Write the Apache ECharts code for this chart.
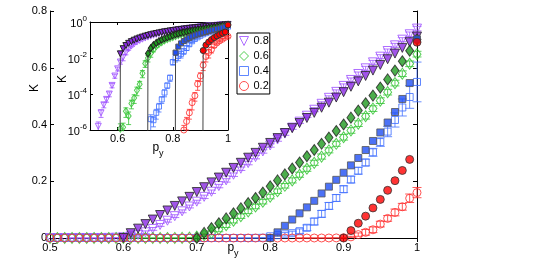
<!DOCTYPE html>
<html><head><meta charset="utf-8">
<script src="https://cdn.jsdelivr.net/npm/echarts@6/dist/echarts.min.js"></script>
<style>html,body{margin:0;padding:0;background:#fff}#c{width:545px;height:267px}</style>
</head><body><div id="c"></div>
<script>
// p_y grid
const P = [0.50,0.51,0.52,0.53,0.54,0.55,0.56,0.57,0.58,0.59,
  0.60,0.61,0.62,0.63,0.64,0.65,0.66,0.67,0.68,0.69,
  0.70,0.71,0.72,0.73,0.74,0.75,0.76,0.77,0.78,0.79,
  0.80,0.81,0.82,0.83,0.84,0.85,0.86,0.87,0.88,0.89,
  0.90,0.91,0.92,0.93,0.94,0.95,0.96,0.97,0.98,0.99,1.00];

// open symbols (with error bars)
const open08 = [0,0,0,1.6e-6,9e-6,2.5e-5,5e-5,1e-4,3e-4,1e-3,
  2.5e-3,6e-3,0.011,0.02,0.032,0.046,0.061,0.077,0.094,0.111,
  0.128,0.145,0.163,0.183,0.203,0.223,0.244,0.264,0.285,0.305,
  0.326,0.347,0.368,0.389,0.410,0.431,0.452,0.473,0.494,0.515,
  0.536,0.557,0.578,0.598,0.619,0.639,0.659,0.679,0.699,0.718,0.738];
const err08 = [0,0,0,1.2e-6,4e-6,8e-6,1.5e-5,3e-5,8e-5,2.5e-4,
  6e-4,1.5e-3,0.004,0.005,0.005,0.005,0.005,0.005,0.005,0.005,
  0.005,0.006,0.006,0.006,0.006,0.006,0.006,0.006,0.006,0.006,
  0.006,0.006,0.006,0.006,0.006,0.006,0.007,0.007,0.007,0.007,
  0.007,0.007,0.007,0.007,0.007,0.007,0.007,0.007,0.007,0.008,0.008];
const open06 = [0,0,0,0,0,0,0,0,0,0,
  0,1.2e-6,1.4e-6,1.1e-5,6e-6,3e-5,6e-5,1.6e-4,3.5e-4,1.4e-3,
  5e-3,0.01,0.018,0.03,0.045,0.061,0.077,0.094,0.111,0.128,
  0.146,0.165,0.184,0.203,0.223,0.244,0.265,0.287,0.309,0.332,
  0.355,0.379,0.403,0.429,0.456,0.484,0.514,0.546,0.579,0.614,0.648];
const err06 = [0,0,0,0,0,0,0,0,0,0,
  0,1e-6,1e-6,6e-6,4e-6,1.5e-5,3e-5,8e-5,1.5e-4,6e-4,
  2e-3,0.004,0.007,0.008,0.008,0.008,0.008,0.008,0.008,0.008,
  0.008,0.008,0.008,0.009,0.009,0.009,0.009,0.009,0.009,0.009,
  0.01,0.01,0.01,0.01,0.01,0.01,0.01,0.01,0.01,0.01,0.01];
const open04 = [0,0,0,0,0,0,0,0,0,0,
  0,0,0,0,0,0,0,0,0,0,
  0,0,4e-6,3.5e-6,9e-6,2e-5,5e-5,1.2e-4,3e-4,8e-4,
  6e-3,0.01,0.013,0.017,0.024,0.036,0.058,0.085,0.113,0.141,
  0.172,0.206,0.237,0.266,0.302,0.338,0.375,0.416,0.460,0.497,0.55];
const err04 = [0,0,0,0,0,0,0,0,0,0,
  0,0,0,0,0,0,0,0,0,0,
  0,0,3e-6,2e-6,5e-6,1e-5,2e-5,5e-5,1e-4,3e-4,
  2e-3,0.004,0.006,0.007,0.008,0.01,0.012,0.012,0.012,0.012,
  0.012,0.012,0.012,0.012,0.014,0.015,0.018,0.025,0.03,0.04,0.07];
const open02 = [0,0,0,0,0,0,0,0,0,0,
  0,0,0,0,0,0,0,0,0,0,
  0,0,0,0,0,0,0,0,0,0,
  0,0,0,0,1e-6,3e-6,9e-6,3.3e-5,8e-5,3.6e-4,
  1e-3,4e-3,0.012,0.02,0.029,0.049,0.069,0.09,0.11,0.14,0.16];
const err02 = [0,0,0,0,0,0,0,0,0,0,
  0,0,0,0,0,0,0,0,0,0,
  0,0,0,0,0,0,0,0,0,0,
  0,0,0,0,8e-7,2e-6,5e-6,2e-5,4e-5,2e-4,
  5e-4,2e-3,0.006,0.01,0.01,0.01,0.01,0.012,0.012,0.015,0.018];

// filled symbols
const fill08 = [null,null,null,null,null,null,null,null,null,null,
  0,0.017,0.033,0.049,0.065,0.081,0.097,0.113,0.129,0.145,
  0.162,0.179,0.196,0.213,0.230,0.247,0.265,0.283,0.300,0.318,
  0.335,0.352,0.370,0.387,0.405,0.423,0.441,0.459,0.477,0.495,
  0.514,0.533,0.552,0.571,0.590,0.610,0.630,0.650,0.670,0.690,0.71];
const fill06 = [null,null,null,null,null,null,null,null,null,null,
  null,null,null,null,null,null,null,null,null,null,
  0,0.018,0.035,0.052,0.069,0.087,0.105,0.123,0.141,0.160,
  0.182,0.203,0.224,0.245,0.266,0.288,0.310,0.332,0.354,0.377,
  0.400,0.424,0.449,0.475,0.502,0.530,0.559,0.590,0.623,0.660,0.70];
const fill04 = [null,null,null,null,null,null,null,null,null,null,
  null,null,null,null,null,null,null,null,null,null,
  null,null,null,null,null,null,null,null,null,null,
  0,0.02,0.043,0.065,0.087,0.108,0.131,0.157,0.181,0.205,
  0.230,0.256,0.282,0.310,0.342,0.372,0.407,0.444,0.490,0.546,0.70];
const fill02 = [null,null,null,null,null,null,null,null,null,null,
  null,null,null,null,null,null,null,null,null,null,
  null,null,null,null,null,null,null,null,null,null,
  null,null,null,null,null,null,null,null,null,null,
  0,0.026,0.052,0.077,0.106,0.136,0.168,0.202,0.238,0.277,0.69];

const names = ['0.8','0.6','0.4','0.2'];
const mainXTicks = [0.5,0.6,0.7,0.8,0.9,1];
const mainYTicks = [0,0.2,0.4,0.6,0.8];
const insetXTicks = [0.6,0.8,1];

const FONT = '"Liberation Sans", Arial, Helvetica, sans-serif';
const openColors = ['#a055ff','#33c433','#4472ff','#ff3030'];
const fillColors = ['#8a2be2','#1f9a1f','#1f4ff5','#ff0000'];
const fillEdge = ['#222','#222','#555','#333'];
const downTri = 'path://M0,0L10,0L5,10Z';
const symMain = [['triangle',9,180],['diamond',[8,11],0],['rect',7,0],['circle',8,0]];
const symInset = [['triangle',6,180],['diamond',[5,7],0],['rect',5,0],['circle',6,0]];
const opens = [open08,open06,open04,open02];
const errs = [err08,err06,err04,err02];
const fills = [fill08,fill06,fill04,fill02];

function errRenderer(color, cap, clampMin) {
  return function (params, api) {
    const x = api.value(0), v = api.value(1), e = api.value(2);
    let lo = v - e, hi = v + e, clamped = false;
    if (clampMin != null && lo < clampMin) { lo = clampMin; clamped = true; }
    const a = api.coord([x, hi]), b = api.coord([x, lo]);
    const st = {stroke: color, lineWidth: 1, opacity: 0.8};
    const ch = [
      {type:'line', shape:{x1:a[0],y1:a[1],x2:b[0],y2:b[1]}, style:st},
      {type:'line', shape:{x1:a[0]-cap,y1:a[1],x2:a[0]+cap,y2:a[1]}, style:st}
    ];
    if (!clamped) ch.push({type:'line', shape:{x1:b[0]-cap,y1:b[1],x2:b[0]+cap,y2:b[1]}, style:st});
    return {type:'group', children: ch};
  };
}

const series = [];
// main plot
for (let k = 0; k < 4; k++) {
  const errData = [];
  P.forEach((p,i) => { if (opens[k][i] > 0 && errs[k][i] > 0) errData.push([p, opens[k][i], errs[k][i]]); });
  series.push({type:'custom', xAxisIndex:0, yAxisIndex:0, silent:true, data: errData,
    renderItem: errRenderer(openColors[k], 4.5, null)});
  series.push({type:'scatter', name:'m'+names[k], xAxisIndex:0, yAxisIndex:0, silent:true,
    data: P.map((p,i) => [p, opens[k][i]]),
    symbol: symMain[k][0], symbolSize: symMain[k][1], symbolRotate: symMain[k][2],
    itemStyle:{color:'rgba(0,0,0,0)', borderColor: openColors[k], borderWidth:1, opacity:0.85}});
}
for (let k = 0; k < 4; k++) {
  const d = [];
  P.forEach((p,i) => { if (fills[k][i] != null) d.push([p, fills[k][i]]); });
  series.push({type:'scatter', name:'f'+names[k], xAxisIndex:0, yAxisIndex:0, silent:true, data:d,
    symbol: symMain[k][0], symbolSize: symMain[k][1], symbolRotate: symMain[k][2],
    itemStyle:{color: fillColors[k], borderColor: fillEdge[k], borderWidth:1}});
}
// inset
for (let k = 0; k < 4; k++) {
  const errData = [], d = [];
  P.forEach((p,i) => {
    if (opens[k][i] > 0) {
      d.push([p, opens[k][i]]);
      if (errs[k][i] > 0) errData.push([p, opens[k][i], errs[k][i]]);
    }
  });
  series.push({type:'custom', xAxisIndex:2, yAxisIndex:2, silent:true, data: errData,
    renderItem: errRenderer(openColors[k], 2.5, 1e-6)});
  series.push({type:'scatter', name:names[k], xAxisIndex:2, yAxisIndex:2, silent:true, data:d,
    symbol: symInset[k][0], symbolSize: symInset[k][1], symbolRotate: symInset[k][2],
    itemStyle:{color:'rgba(0,0,0,0)', borderColor: openColors[k], borderWidth:1, opacity:0.85}});
}
for (let k = 0; k < 4; k++) {
  const d = [];
  P.forEach((p,i) => {
    const v = fills[k][i];
    if (v == null) return;
    if (v === 0) d.push({value:[p, 1e-60], symbol:'none'});
    else d.push([p, v]);
  });
  series.push({type:'line', name:'fi'+names[k], xAxisIndex:2, yAxisIndex:2, silent:true, data:d, clip:true,
    symbol: symInset[k][0], symbolSize: symInset[k][1], symbolRotate: symInset[k][2], showAllSymbol:true,
    lineStyle:{color:'#444', width:1},
    itemStyle:{color: fillColors[k], borderColor: fillEdge[k], borderWidth:1}});
}

const axLine = {show:true, lineStyle:{color:'#000', width:1}};
const tickIn = {show:true, inside:true, length:4, lineStyle:{color:'#000'}};
const lbl = {color:'#000', fontSize:11, fontFamily:FONT};
const numFmt = v => String(+(+v).toFixed(2));

const logLabel = {
  ...lbl, margin:3,
  formatter: v => '{b|10}{s|' + Math.round(Math.log10(v)) + '}',
  rich: {b:{fontSize:11, fontFamily:FONT, color:'#000', lineHeight:15, verticalAlign:'bottom'},
         s:{fontSize:8, fontFamily:FONT, color:'#000', lineHeight:9, verticalAlign:'top'}}
};

const option = {
  animation:false,
  backgroundColor:'#fff',
  grid:[
    {left:50, top:11, width:367, height:227, show:false},
    {left:90, top:22, width:138, height:108, show:true, backgroundColor:'#fff', borderWidth:0}
  ],
  xAxis:[
    {gridIndex:0, type:'value', min:0.5, max:1, interval:0.1, position:'bottom',
      axisLine:axLine, axisTick:tickIn, splitLine:{show:false},
      axisLabel:{...lbl, margin:4, formatter:numFmt, customValues: mainXTicks}},
    {gridIndex:0, type:'value', min:0.5, max:1, interval:0.1, position:'top',
      axisLine:axLine, axisTick:tickIn, splitLine:{show:false}, axisLabel:{show:false}},
    {gridIndex:1, type:'value', min:0.5, max:1, interval:0.1, position:'bottom',
      axisLine:axLine, axisTick:{...tickIn, length:3, customValues: insetXTicks}, splitLine:{show:false},
      axisLabel:{...lbl, margin:3, formatter:numFmt, customValues: insetXTicks}},
    {gridIndex:1, type:'value', min:0.5, max:1, interval:0.1, position:'top',
      axisLine:axLine, axisTick:{...tickIn, length:3, customValues: insetXTicks}, splitLine:{show:false}, axisLabel:{show:false}}
  ],
  yAxis:[
    {gridIndex:0, type:'value', min:0, max:0.8, interval:0.2, position:'left',
      axisLine:axLine, axisTick:tickIn, splitLine:{show:false},
      axisLabel:{...lbl, margin:3, formatter:numFmt, customValues: mainYTicks}},
    {gridIndex:0, type:'value', min:0, max:0.8, interval:0.2, position:'right',
      axisLine:axLine, axisTick:tickIn, splitLine:{show:false}, axisLabel:{show:false}},
    {gridIndex:1, type:'log', logBase:100, min:1e-6, max:1, position:'left',
      axisLine:axLine, axisTick:{...tickIn, length:3}, splitLine:{show:false}, minorTick:{show:false},
      axisLabel: logLabel},
    {gridIndex:1, type:'log', logBase:100, min:1e-6, max:1, position:'right',
      axisLine:axLine, axisTick:{...tickIn, length:3}, splitLine:{show:false}, axisLabel:{show:false}}
  ],
  legend:{
    data: names.map((n,k) => ({name:n, icon: k===0 ? downTri : symInset[k][0],
      itemStyle:{color:'rgba(0,0,0,0)', borderColor: openColors[k], borderWidth:1}})),
    orient:'vertical', left:237, top:33, itemWidth:9, itemHeight:9, itemGap:3,
    padding:[2,1,2,2], borderColor:'#000', borderWidth:1, backgroundColor:'#fff',
    selectedMode:false,
    textStyle:{color:'#000', fontSize:11, fontFamily:FONT, lineHeight:12}
  },
  graphic:[
    {type:'text', x:35, y:88, rotation:Math.PI/2, style:{text:'K', font:'12px '+FONT, fill:'#000', textAlign:'center', textVerticalAlign:'middle'}},
    {type:'text', x:63, y:79, rotation:Math.PI/2, style:{text:'K', font:'12px '+FONT, fill:'#000', textAlign:'center', textVerticalAlign:'middle'}},
    {type:'text', x:233, y:250, style:{text:'{p|p}{y|y}', textAlign:'center', textVerticalAlign:'middle',
      rich:{p:{fontSize:12, fontFamily:FONT, fill:'#000', verticalAlign:'top', lineHeight:12},
            y:{fontSize:9, fontFamily:FONT, fill:'#000', verticalAlign:'bottom', lineHeight:16}}}},
    {type:'text', x:158, y:150, style:{text:'{p|p}{y|y}', textAlign:'center', textVerticalAlign:'middle',
      rich:{p:{fontSize:12, fontFamily:FONT, fill:'#000', verticalAlign:'top', lineHeight:12},
            y:{fontSize:9, fontFamily:FONT, fill:'#000', verticalAlign:'bottom', lineHeight:16}}}}
  ],
  series: series
};
const chart = echarts.init(document.getElementById('c'), null, {renderer:'canvas'});
chart.setOption(option);
</script>
</body></html>
